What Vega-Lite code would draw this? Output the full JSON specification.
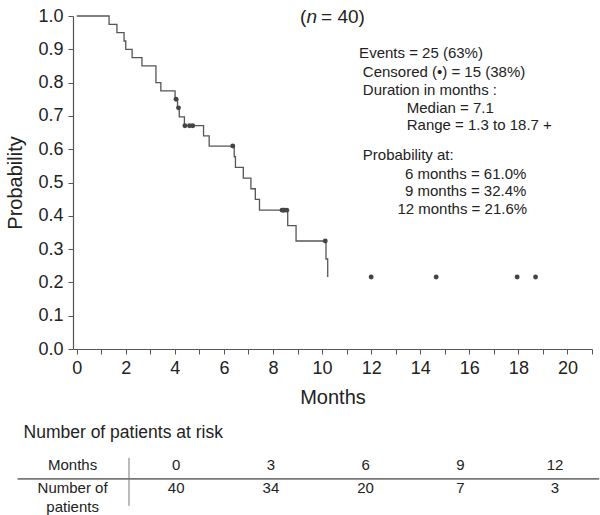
{
  "$schema": "https://vega.github.io/schema/vega-lite/v6.json",
  "width": 519,
  "height": 333,
  "autosize": {"type": "none"},
  "padding": {"left": 73, "top": 16, "right": 8, "bottom": 166},
  "background": "white",
  "config": {
    "view": {"stroke": null},
    "font": "Liberation Sans",
    "axis": {
      "grid": false,
      "domainColor": "#555",
      "tickColor": "#555",
      "labelColor": "#222",
      "titleColor": "#222",
      "labelFont": "Liberation Sans",
      "titleFont": "Liberation Sans",
      "titleFontWeight": "normal",
      "labelFontSize": 18,
      "titleFontSize": 20,
      "tickSize": 5,
      "domainWidth": 1.2,
      "tickWidth": 1
    },
    "text": {"font": "Liberation Sans", "color": "#222"}
  },
  "datasets": {
    "km": [
      {"t": 0, "s": 1}, {"t": 1.32, "s": 0.975}, {"t": 1.64, "s": 0.95}, {"t": 1.93, "s": 0.925},
      {"t": 2.0, "s": 0.9}, {"t": 2.26, "s": 0.875}, {"t": 2.66, "s": 0.85}, {"t": 3.23, "s": 0.8},
      {"t": 3.43, "s": 0.775}, {"t": 4.01, "s": 0.75}, {"t": 4.11, "s": 0.7241}, {"t": 4.18, "s": 0.6973},
      {"t": 4.39, "s": 0.6705}, {"t": 5.17, "s": 0.64}, {"t": 5.4, "s": 0.6095}, {"t": 6.42, "s": 0.5774},
      {"t": 6.47, "s": 0.5453}, {"t": 6.79, "s": 0.5133}, {"t": 7.1, "s": 0.4812}, {"t": 7.28, "s": 0.4491},
      {"t": 7.45, "s": 0.417}, {"t": 8.6, "s": 0.3707}, {"t": 8.94, "s": 0.3244}, {"t": 10.16, "s": 0.2703},
      {"t": 10.23, "s": 0.2162}
    ],
    "cens": [
      {"t": 4.05, "s": 0.75}, {"t": 4.15, "s": 0.7241}, {"t": 4.41, "s": 0.6705}, {"t": 4.6, "s": 0.6705},
      {"t": 4.73, "s": 0.6705}, {"t": 6.36, "s": 0.6095}, {"t": 8.37, "s": 0.417}, {"t": 8.42, "s": 0.417},
      {"t": 8.46, "s": 0.417}, {"t": 8.56, "s": 0.417}, {"t": 10.13, "s": 0.3244}, {"t": 12.0, "s": 0.2162},
      {"t": 14.65, "s": 0.2162}, {"t": 17.95, "s": 0.2162}, {"t": 18.7, "s": 0.2162}
    ],
    "risk": [
      {"m": 0, "n": 40}, {"m": 3, "n": 34}, {"m": 6, "n": 20}, {"m": 9, "n": 7}, {"m": 12, "n": 3}
    ]
  },
  "layer": [
    {
      "encoding": {
        "x": {
          "field": "t", "type": "quantitative",
          "scale": {"domain": [-0.15, 21], "nice": false, "zero": false},
          "axis": {
            "title": "Months",
            "values": [0,1,2,3,4,5,6,7,8,9,10,11,12,13,14,15,16,17,18,19,20,21],
            "labelExpr": "datum.value % 2 === 0 ? datum.label : ''",
            "format": "d",
            "labelFlush": false,
            "labelOverlap": false,
            "labelPadding": 5,
            "titlePadding": 10
          }
        },
        "y": {
          "field": "s", "type": "quantitative",
          "scale": {"domain": [0, 1], "nice": false, "zero": false},
          "axis": {
            "title": "Probability",
            "values": [0, 0.1, 0.2, 0.3, 0.4, 0.5, 0.6, 0.7, 0.8, 0.9, 1],
            "format": ".1f",
            "labelFlush": false,
            "labelOverlap": false,
            "labelPadding": 5,
            "titlePadding": 12
          }
        }
      },
      "layer": [
        {
          "data": {"name": "km"},
          "mark": {"type": "line", "interpolate": "step-after", "color": "#555", "strokeWidth": 1.3}
        },
        {
          "data": {"name": "cens"},
          "mark": {"type": "circle", "size": 24, "color": "#444", "opacity": 1}
        }
      ]
    },
    {
      "data": {"values": [{}]},
      "layer": [
        {
          "mark": {"type": "text", "text": "(", "fontSize": 19, "align": "left", "baseline": "middle"},
          "encoding": {
            "x": {"datum": 9.1, "type": "quantitative", "scale": {"domain": [-0.15, 21], "nice": false, "zero": false}, "axis": null},
            "y": {"datum": 0.996, "type": "quantitative", "scale": {"domain": [0, 1], "nice": false, "zero": false}, "axis": null}
          }
        },
        {
          "mark": {"type": "text", "text": "n", "fontSize": 19, "fontStyle": "italic", "align": "left", "baseline": "middle"},
          "encoding": {
            "x": {"datum": 9.37, "type": "quantitative", "scale": {"domain": [-0.15, 21], "nice": false, "zero": false}, "axis": null},
            "y": {"datum": 0.996, "type": "quantitative", "scale": {"domain": [0, 1], "nice": false, "zero": false}, "axis": null}
          }
        },
        {
          "mark": {"type": "text", "text": "= 40)", "fontSize": 19, "align": "left", "baseline": "middle"},
          "encoding": {
            "x": {"datum": 9.96, "type": "quantitative", "scale": {"domain": [-0.15, 21], "nice": false, "zero": false}, "axis": null},
            "y": {"datum": 0.996, "type": "quantitative", "scale": {"domain": [0, 1], "nice": false, "zero": false}, "axis": null}
          }
        },
        {
          "mark": {"type": "text", "text": "Events = 25 (63%)", "fontSize": 15, "align": "left", "baseline": "middle"},
          "encoding": {
            "x": {"datum": 11.51, "type": "quantitative", "scale": {"domain": [-0.15, 21], "nice": false, "zero": false}, "axis": null},
            "y": {"datum": 0.888, "type": "quantitative", "scale": {"domain": [0, 1], "nice": false, "zero": false}, "axis": null}
          }
        },
        {
          "mark": {"type": "text", "text": "Censored (•) = 15 (38%)", "fontSize": 15, "align": "left", "baseline": "middle"},
          "encoding": {
            "x": {"datum": 11.66, "type": "quantitative", "scale": {"domain": [-0.15, 21], "nice": false, "zero": false}, "axis": null},
            "y": {"datum": 0.832, "type": "quantitative", "scale": {"domain": [0, 1], "nice": false, "zero": false}, "axis": null}
          }
        },
        {
          "mark": {"type": "text", "text": "Duration in months :", "fontSize": 15, "align": "left", "baseline": "middle"},
          "encoding": {
            "x": {"datum": 11.66, "type": "quantitative", "scale": {"domain": [-0.15, 21], "nice": false, "zero": false}, "axis": null},
            "y": {"datum": 0.779, "type": "quantitative", "scale": {"domain": [0, 1], "nice": false, "zero": false}, "axis": null}
          }
        },
        {
          "mark": {"type": "text", "text": "Median = 7.1", "fontSize": 15, "align": "left", "baseline": "middle"},
          "encoding": {
            "x": {"datum": 13.45, "type": "quantitative", "scale": {"domain": [-0.15, 21], "nice": false, "zero": false}, "axis": null},
            "y": {"datum": 0.725, "type": "quantitative", "scale": {"domain": [0, 1], "nice": false, "zero": false}, "axis": null}
          }
        },
        {
          "mark": {"type": "text", "text": "Range = 1.3 to 18.7 +", "fontSize": 15, "align": "left", "baseline": "middle"},
          "encoding": {
            "x": {"datum": 13.45, "type": "quantitative", "scale": {"domain": [-0.15, 21], "nice": false, "zero": false}, "axis": null},
            "y": {"datum": 0.672, "type": "quantitative", "scale": {"domain": [0, 1], "nice": false, "zero": false}, "axis": null}
          }
        },
        {
          "mark": {"type": "text", "text": "Probability at:", "fontSize": 15, "align": "left", "baseline": "middle"},
          "encoding": {
            "x": {"datum": 11.66, "type": "quantitative", "scale": {"domain": [-0.15, 21], "nice": false, "zero": false}, "axis": null},
            "y": {"datum": 0.582, "type": "quantitative", "scale": {"domain": [0, 1], "nice": false, "zero": false}, "axis": null}
          }
        },
        {
          "mark": {"type": "text", "text": "6 months = 61.0%", "fontSize": 15, "align": "left", "baseline": "middle"},
          "encoding": {
            "x": {"datum": 13.38, "type": "quantitative", "scale": {"domain": [-0.15, 21], "nice": false, "zero": false}, "axis": null},
            "y": {"datum": 0.527, "type": "quantitative", "scale": {"domain": [0, 1], "nice": false, "zero": false}, "axis": null}
          }
        },
        {
          "mark": {"type": "text", "text": "9 months = 32.4%", "fontSize": 15, "align": "left", "baseline": "middle"},
          "encoding": {
            "x": {"datum": 13.38, "type": "quantitative", "scale": {"domain": [-0.15, 21], "nice": false, "zero": false}, "axis": null},
            "y": {"datum": 0.474, "type": "quantitative", "scale": {"domain": [0, 1], "nice": false, "zero": false}, "axis": null}
          }
        },
        {
          "mark": {"type": "text", "text": "12 months = 21.6%", "fontSize": 15, "align": "left", "baseline": "middle"},
          "encoding": {
            "x": {"datum": 13.07, "type": "quantitative", "scale": {"domain": [-0.15, 21], "nice": false, "zero": false}, "axis": null},
            "y": {"datum": 0.419, "type": "quantitative", "scale": {"domain": [0, 1], "nice": false, "zero": false}, "axis": null}
          }
        }
      ]
    },
    {
      "data": {"values": [{}]},
      "layer": [
        {
          "mark": {"type": "text", "text": "Number of patients at risk", "fontSize": 17.5, "align": "left", "baseline": "middle"},
          "encoding": {
            "x": {"datum": -4.835, "type": "quantitative", "scale": {"domain": [-3.268, 13.171], "nice": false, "zero": false}, "axis": null},
            "y": {"datum": -0.253, "type": "quantitative", "scale": {"domain": [0, 1], "nice": false, "zero": false}, "axis": null}
          }
        },
        {
          "mark": {"type": "text", "text": "Months", "fontSize": 15, "align": "center", "baseline": "middle"},
          "encoding": {
            "x": {"datum": -3.28, "type": "quantitative", "scale": {"domain": [-3.268, 13.171], "nice": false, "zero": false}, "axis": null},
            "y": {"datum": -0.348, "type": "quantitative", "scale": {"domain": [0, 1], "nice": false, "zero": false}, "axis": null}
          }
        },
        {
          "mark": {"type": "text", "text": "Number of", "fontSize": 15, "align": "center", "baseline": "middle"},
          "encoding": {
            "x": {"datum": -3.28, "type": "quantitative", "scale": {"domain": [-3.268, 13.171], "nice": false, "zero": false}, "axis": null},
            "y": {"datum": -0.418, "type": "quantitative", "scale": {"domain": [0, 1], "nice": false, "zero": false}, "axis": null}
          }
        },
        {
          "mark": {"type": "text", "text": "patients", "fontSize": 15, "align": "center", "baseline": "middle"},
          "encoding": {
            "x": {"datum": -3.28, "type": "quantitative", "scale": {"domain": [-3.268, 13.171], "nice": false, "zero": false}, "axis": null},
            "y": {"datum": -0.473, "type": "quantitative", "scale": {"domain": [0, 1], "nice": false, "zero": false}, "axis": null}
          }
        },
        {
          "mark": {"type": "rule", "color": "#777", "strokeWidth": 1.8},
          "encoding": {
            "x": {"datum": -5.024, "type": "quantitative", "scale": {"domain": [-3.268, 13.171], "nice": false, "zero": false}, "axis": null},
            "x2": {"datum": 13.4},
            "y": {"datum": -0.39, "type": "quantitative", "scale": {"domain": [0, 1], "nice": false, "zero": false}, "axis": null}
          }
        },
        {
          "mark": {"type": "rule", "color": "#777", "strokeWidth": 1},
          "encoding": {
            "x": {"datum": -1.494, "type": "quantitative", "scale": {"domain": [-3.268, 13.171], "nice": false, "zero": false}, "axis": null},
            "y": {"datum": -0.327, "type": "quantitative", "scale": {"domain": [0, 1], "nice": false, "zero": false}, "axis": null},
            "y2": {"datum": -0.471}
          }
        },
        {
          "data": {"name": "risk"},
          "mark": {"type": "text", "fontSize": 15, "align": "center", "baseline": "middle"},
          "encoding": {
            "x": {"field": "m", "type": "quantitative", "scale": {"domain": [-3.268, 13.171], "nice": false, "zero": false}, "axis": null},
            "y": {"datum": -0.348, "type": "quantitative", "scale": {"domain": [0, 1], "nice": false, "zero": false}, "axis": null},
            "text": {"field": "m", "type": "quantitative"}
          }
        },
        {
          "data": {"name": "risk"},
          "mark": {"type": "text", "fontSize": 15, "align": "center", "baseline": "middle"},
          "encoding": {
            "x": {"field": "m", "type": "quantitative", "scale": {"domain": [-3.268, 13.171], "nice": false, "zero": false}, "axis": null},
            "y": {"datum": -0.418, "type": "quantitative", "scale": {"domain": [0, 1], "nice": false, "zero": false}, "axis": null},
            "text": {"field": "n", "type": "quantitative"}
          }
        }
      ]
    }
  ],
  "resolve": {"scale": {"x": "independent", "y": "independent"}}
}
